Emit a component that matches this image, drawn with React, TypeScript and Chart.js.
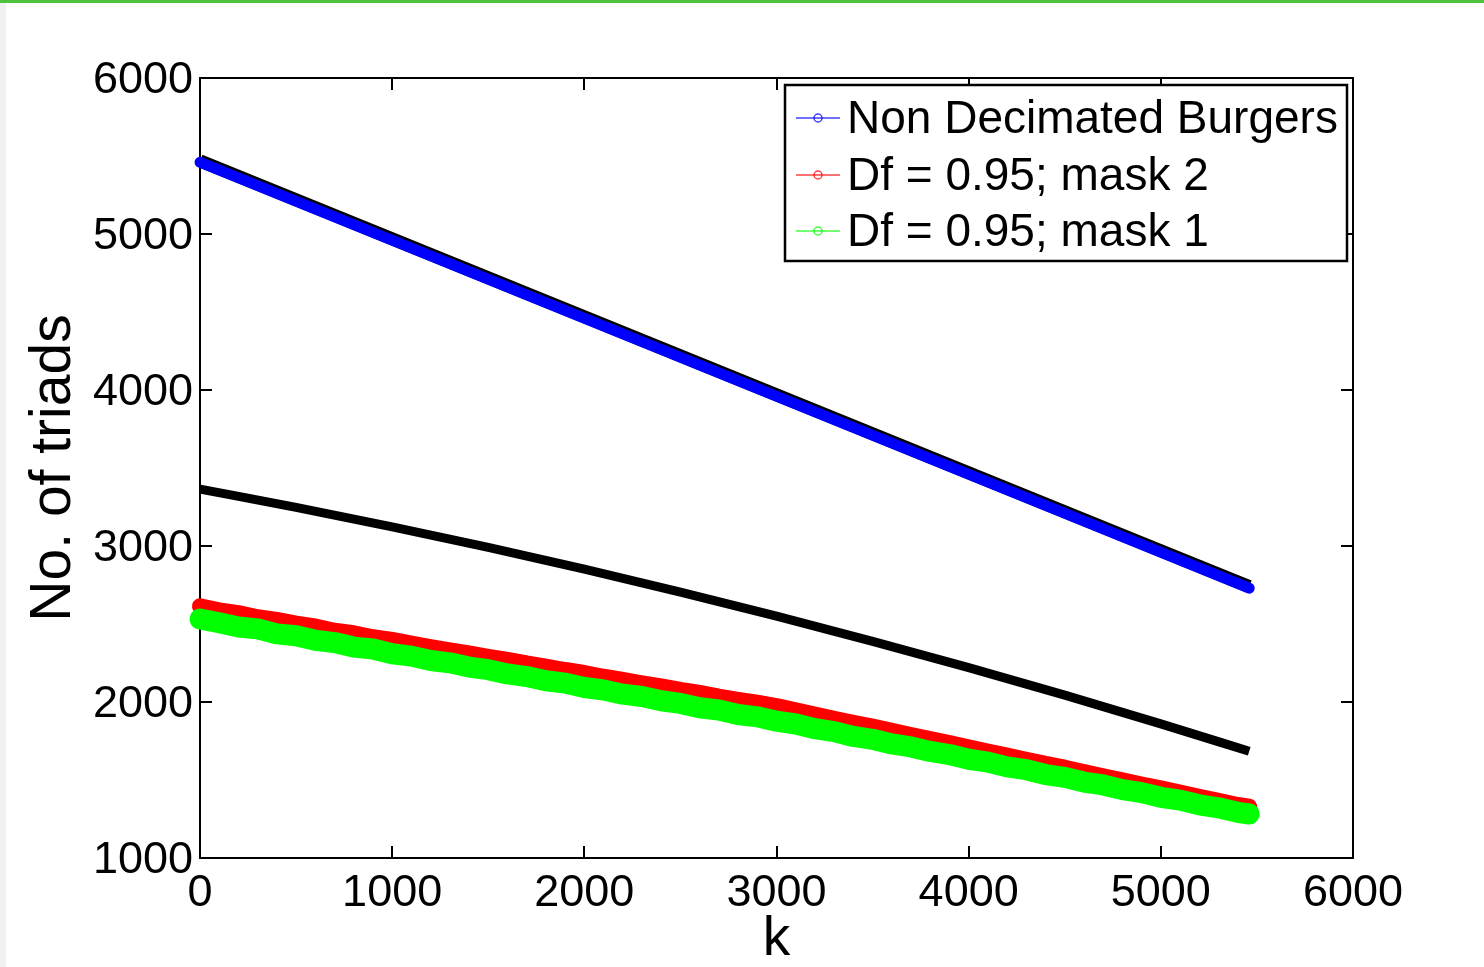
import { useEffect, useRef } from "react";
import { Chart, registerables } from "chart.js";

Chart.register(...registerables);

// Mode index k sampled every 100 for the decimated runs
const sampleK = [
  0, 100, 200, 300, 400, 500, 600, 700, 800, 900,
  1000, 1100, 1200, 1300, 1400, 1500, 1600, 1700, 1800, 1900,
  2000, 2100, 2200, 2300, 2400, 2500, 2600, 2700, 2800, 2900,
  3000, 3100, 3200, 3300, 3400, 3500, 3600, 3700, 3800, 3900,
  4000, 4100, 4200, 4300, 4400, 4500, 4600, 4700, 4800, 4900,
  5000, 5100, 5200, 5300, 5400, 5460,
];

const mask2Triads = [
  2614, 2587, 2570, 2543, 2526, 2502, 2484, 2457, 2441, 2415,
  2398, 2374, 2352, 2331, 2312, 2290, 2270, 2247, 2227, 2205,
  2186, 2162, 2141, 2120, 2100, 2077, 2059, 2035, 2014, 1995,
  1974, 1946, 1920, 1892, 1867, 1843, 1816, 1788, 1762, 1736,
  1710, 1683, 1657, 1630, 1603, 1579, 1551, 1524, 1498, 1471,
  1446, 1419, 1392, 1366, 1340, 1329,
];

const mask1Triads = [
  2532, 2508, 2481, 2469, 2437, 2425, 2396, 2381, 2352, 2340,
  2309, 2294, 2266, 2251, 2224, 2207, 2180, 2163, 2136, 2121,
  2093, 2077, 2050, 2035, 2008, 1991, 1963, 1949, 1920, 1905,
  1877, 1859, 1829, 1810, 1779, 1761, 1731, 1712, 1683, 1663,
  1633, 1615, 1584, 1566, 1535, 1517, 1487, 1468, 1438, 1419,
  1389, 1371, 1341, 1322, 1293, 1282,
];

// Full (non decimated) Burgers triad count
const fullK = [0, 1000, 2000, 3000, 4000, 5000, 5460];
const fullTriads = [5460, 4960, 4460, 3960, 3460, 2960, 2730];
// Reference curve for the full system
const fullExpected = [5470, 4970, 4470, 3970, 3470, 2970, 2740];

// Expected count for Df = 0.95
const expectedK = [0, 500, 1000, 1500, 2000, 2500, 3000, 3500, 4000, 4500, 5000, 5460];
const expectedTriads = [3365, 3248, 3123, 2991, 2852, 2705, 2551, 2389, 2220, 2044, 1860, 1684];

const xTicks = [0, 1000, 2000, 3000, 4000, 5000, 6000];
const yTicks = [1000, 2000, 3000, 4000, 5000, 6000];

const legendLabels = ["Non Decimated Burgers", "Df = 0.95; mask 2", "Df = 0.95; mask 1"];
const legendColors = ["#0000ff", "#ff0000", "#00ff00"];

const FONT = "'Liberation Sans', Arial, Helvetica, sans-serif";

const toPoints = (xs: number[], ys: number[]) => xs.map((x, i) => ({ x, y: ys[i] }));

const framePlugin = {
  id: "matlabFrame",
  beforeDatasetsDraw(chart: any) {
    const { ctx, chartArea: a, scales } = chart;
    ctx.save();
    ctx.strokeStyle = "#000";
    ctx.lineWidth = 2;
    ctx.strokeRect(a.left, a.top, a.right - a.left, a.bottom - a.top);
    const tl = 12;
    ctx.beginPath();
    xTicks.slice(1, -1).forEach((v) => {
      const px = Math.round(scales.x.getPixelForValue(v));
      ctx.moveTo(px, a.bottom);
      ctx.lineTo(px, a.bottom - tl);
      ctx.moveTo(px, a.top);
      ctx.lineTo(px, a.top + tl);
    });
    yTicks.slice(1, -1).forEach((v) => {
      const py = Math.round(scales.y.getPixelForValue(v));
      ctx.moveTo(a.left, py);
      ctx.lineTo(a.left + tl, py);
      ctx.moveTo(a.right, py);
      ctx.lineTo(a.right - tl, py);
    });
    ctx.stroke();
    ctx.restore();
  },
  afterDatasetsDraw(chart: any) {
    const { ctx } = chart;
    ctx.save();
    const box = { x: 785, y: 85, w: 562, h: 176 };
    ctx.fillStyle = "#fff";
    ctx.fillRect(box.x, box.y, box.w, box.h);
    ctx.strokeStyle = "#000";
    ctx.lineWidth = 2.5;
    ctx.strokeRect(box.x, box.y, box.w, box.h);
    const rows = [118, 175, 231];
    legendLabels.forEach((label, i) => {
      const y = rows[i];
      ctx.strokeStyle = legendColors[i];
      ctx.globalAlpha = 0.75;
      ctx.lineWidth = 1.5;
      ctx.beginPath();
      ctx.moveTo(796, y);
      ctx.lineTo(840, y);
      ctx.stroke();
      ctx.beginPath();
      ctx.arc(818, y, 4, 0, Math.PI * 2);
      ctx.stroke();
      ctx.globalAlpha = 1;
      ctx.fillStyle = "#000";
      ctx.font = `46px ${FONT}`;
      ctx.textBaseline = "middle";
      ctx.textAlign = "left";
      ctx.fillText(label, 847, y + 2);
    });
    ctx.restore();
  },
};

export default function App() {
  const canvasRef = useRef<HTMLCanvasElement | null>(null);

  useEffect(() => {
    const canvas = canvasRef.current;
    if (!canvas) return;
    const chart = new Chart(canvas, {
      type: "line",
      data: {
        datasets: [
          {
            label: legendLabels[2],
            data: toPoints(sampleK, mask1Triads),
            borderColor: "#00ff00",
            borderWidth: 21,
            pointRadius: 0,
            borderCapStyle: "round",
            borderJoinStyle: "round",
            clip: false,
            order: 0,
          },
          {
            label: legendLabels[1],
            data: toPoints(sampleK, mask2Triads),
            borderColor: "#ff0000",
            borderWidth: 16,
            pointRadius: 0,
            borderCapStyle: "round",
            borderJoinStyle: "round",
            clip: false,
            order: 1,
          },
          {
            label: "expected",
            data: toPoints(expectedK, expectedTriads),
            borderColor: "#000000",
            borderWidth: 9,
            pointRadius: 0,
            cubicInterpolationMode: "monotone",
            borderCapStyle: "butt",
            clip: false,
            order: 2,
          },
          {
            label: legendLabels[0],
            data: toPoints(fullK, fullTriads),
            borderColor: "#0000ff",
            borderWidth: 11,
            pointRadius: 0,
            borderCapStyle: "round",
            clip: false,
            order: 3,
          },
          {
            label: "expected full",
            data: toPoints(fullK, fullExpected),
            borderColor: "#000000",
            borderWidth: 13,
            pointRadius: 0,
            borderCapStyle: "butt",
            clip: false,
            order: 4,
          },
        ],
      },
      options: {
        animation: false,
        responsive: false,
        devicePixelRatio: 1,
        layout: { padding: { top: 78, right: 131, left: 0, bottom: 0 } },
        plugins: {
          legend: { display: false },
          tooltip: { enabled: false },
        },
        scales: {
          x: {
            type: "linear",
            min: 0,
            max: 6000,
            afterBuildTicks: (s: any) => {
              s.ticks = xTicks.map((v) => ({ value: v }));
            },
            afterFit: (s: any) => {
              s.height = 109;
            },
            grid: { display: false, drawTicks: false },
            border: { display: false },
            ticks: {
              color: "#000",
              font: { family: FONT, size: 45 },
              padding: 9,
              maxRotation: 0,
              autoSkip: false,
              callback: (v: any) => String(v),
            },
            title: {
              display: true,
              text: "k",
              color: "#000",
              font: { family: FONT, size: 55 },
              padding: { top: 0, bottom: -6 },
            },
          },
          y: {
            type: "linear",
            min: 1000,
            max: 6000,
            afterBuildTicks: (s: any) => {
              s.ticks = yTicks.map((v) => ({ value: v }));
            },
            afterFit: (s: any) => {
              s.width = 200;
            },
            grid: { display: false, drawTicks: false },
            border: { display: false },
            ticks: {
              color: "#000",
              font: { family: FONT, size: 45 },
              padding: 7,
              labelOffset: 3,
              autoSkip: false,
              callback: (v: any) => String(v),
            },
            title: {
              display: true,
              text: "No. of triads",
              color: "#000",
              font: { family: FONT, size: 57 },
              padding: { top: 20, bottom: 0 },
            },
          },
        },
      },
      plugins: [framePlugin],
    } as any);
    return () => chart.destroy();
  }, []);

  return (
    <div
      style={{
        position: "absolute",
        left: 0,
        top: 0,
        width: 1484,
        height: 967,
        background: "#fff",
        overflow: "hidden",
      }}
    >
      <canvas ref={canvasRef} width={1484} height={967} style={{ display: "block" }} />
      <div
        style={{ position: "absolute", left: 0, top: 0, width: 1484, height: 3, background: "#4fc23b" }}
      />
      <div
        style={{ position: "absolute", left: 0, top: 3, width: 6, height: 964, background: "#f1f1f1" }}
      />
    </div>
  );
}
